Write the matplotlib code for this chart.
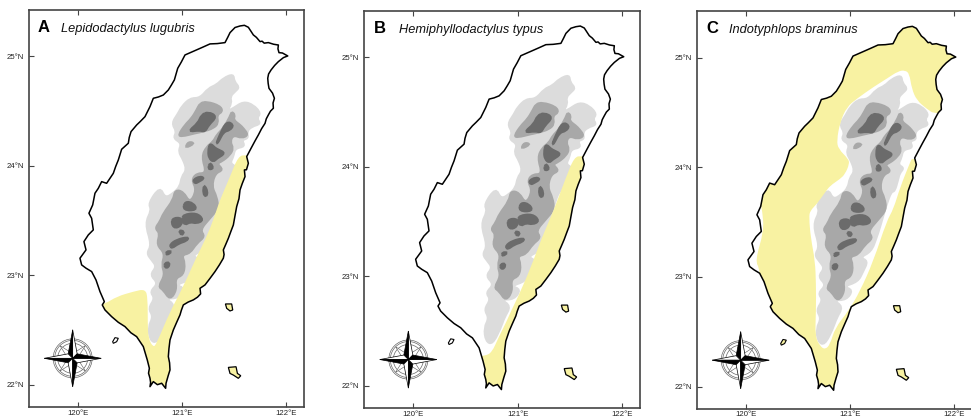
import matplotlib
matplotlib.use('Agg')
import numpy as np
import matplotlib.pyplot as plt
from matplotlib.patches import Polygon, Ellipse, PathPatch
from matplotlib.path import Path

plt.rcParams['font.family'] = ['Liberation Sans', 'DejaVu Sans']

# coastline, lon/lat
coast = [(121.558,25.279),(121.600,25.285),(121.638,25.267),(121.660,25.235),(121.686,25.197),(121.715,25.175),(121.750,25.136),
         (121.770,25.140),(121.790,25.122),(121.830,25.127),(121.880,25.112),(121.926,25.105),(121.922,25.070),(121.932,25.035),
         (121.965,25.032),(122.016,25.005),(121.975,24.990),(121.926,24.953),(121.890,24.918),(121.856,24.877),(121.832,24.840),
         (121.824,24.801),(121.828,24.755),(121.836,24.709),(121.870,24.665),(121.888,24.618),(121.875,24.575),(121.878,24.527),
         (121.850,24.500),(121.830,24.466),(121.810,24.430),(121.798,24.389),(121.765,24.340),(121.734,24.283),(121.700,24.225),
         (121.664,24.161),(121.622,24.085),(121.638,24.024),(121.620,23.965),(121.600,23.963),(121.606,23.902),(121.580,23.840),
         (121.558,23.780),(121.548,23.700),(121.526,23.628),(121.510,23.545),(121.494,23.460),(121.470,23.400),(121.446,23.338),
         (121.420,23.280),(121.398,23.232),(121.405,23.190),(121.398,23.156),(121.360,23.095),(121.318,23.034),(121.270,22.972),
         (121.222,22.912),(121.174,22.881),(121.180,22.830),(121.150,22.800),(121.110,22.775),(121.060,22.755),(121.014,22.729),
         (120.995,22.680),(120.982,22.638),(120.950,22.570),(120.918,22.500),(120.886,22.409),(120.876,22.330),(120.870,22.257),
         (120.882,22.200),(120.886,22.135),(120.868,22.080),(120.848,22.013),(120.844,21.967),(120.806,22.013),(120.765,22.000),
         (120.726,22.028),(120.694,21.982),(120.700,22.020),(120.694,22.059),(120.680,22.105),(120.688,22.150),(120.668,22.226),
         (120.630,22.348),(120.566,22.439),(120.510,22.475),(120.454,22.531),(120.390,22.570),(120.326,22.622),(120.262,22.683),
         (120.236,22.729),(120.256,22.759),(120.214,22.851),(120.176,22.957),(120.134,23.034),(120.080,23.065),(120.038,23.095),
         (120.022,23.156),(120.080,23.232),(120.060,23.308),(120.102,23.369),(120.150,23.415),(120.134,23.521),(120.108,23.567),
         (120.144,23.643),(120.166,23.750),(120.198,23.795),(120.230,23.856),(120.278,23.841),(120.342,23.932),(120.365,23.995),
         (120.390,24.054),(120.422,24.152),(120.486,24.207),(120.495,24.260),(120.512,24.313),(120.566,24.374),(120.600,24.405),
         (120.646,24.450),(120.694,24.542),(120.726,24.618),(120.775,24.630),(120.822,24.648),(120.870,24.694),(120.900,24.740),
         (120.928,24.786),(120.960,24.892),(120.995,24.950),(121.030,25.014),(121.126,25.054),(121.200,25.085),(121.270,25.115),
         (121.340,25.118),(121.414,25.127),(121.440,25.175),(121.462,25.218),(121.510,25.265)]
lanyu = [(121.418,22.738),(121.478,22.738),(121.488,22.683),(121.462,22.674),(121.430,22.698)]
southeast_islet = [(121.446,22.158),(121.520,22.164),(121.533,22.103),(121.565,22.082),(121.542,22.058),
                   (121.494,22.088),(121.462,22.103)]
liuqiu = [(120.336,22.393),(120.358,22.430),(120.390,22.424),(120.374,22.393),(120.342,22.378)]

# elevation bands
light = [(121.494,24.841),(121.501,24.771),(121.552,24.719),(121.510,24.680),(121.462,24.634),(121.478,24.573),
         (121.430,24.497),(121.494,24.527),(121.590,24.588),(121.686,24.558),(121.757,24.482),(121.718,24.436),
         (121.757,24.384),(121.670,24.360),(121.622,24.314),(121.638,24.253),(121.574,24.238),(121.606,24.177),
         (121.510,24.161),(121.494,24.085),(121.462,24.024),(121.520,23.993),(121.478,23.948),(121.462,23.887),
         (121.430,23.780),(121.398,23.780),(121.350,23.658),(121.286,23.445),(121.254,23.354),(121.206,23.232),
         (121.094,23.177),(121.174,23.146),(121.126,23.049),(121.078,22.957),(120.934,22.912),(121.030,22.881),
         (120.966,22.790),(120.838,22.790),(120.934,22.729),(120.870,22.622),(120.838,22.531),(120.758,22.379),
         (120.694,22.409),(120.678,22.531),(120.726,22.622),(120.678,22.698),(120.742,22.790),(120.694,22.851),
         (120.774,22.927),(120.694,23.003),(120.758,23.079),(120.710,23.140),(120.662,23.201),(120.710,23.277),
         (120.646,23.475),(120.710,23.597),(120.678,23.658),(120.790,23.811),(120.838,23.704),(120.918,23.750),
         (120.982,23.811),(120.998,23.902),(121.046,23.963),(121.014,24.055),(120.966,24.131),(120.998,24.207),
         (120.918,24.253),(120.950,24.314),(120.902,24.390),(120.966,24.482),(120.998,24.542),(121.078,24.619),
         (121.174,24.619),(121.254,24.710),(121.334,24.741),(121.398,24.802)]
mid_north = [(121.238,24.588),(121.366,24.549),(121.392,24.497),(121.334,24.466),(121.350,24.390),(121.302,24.344),
             (121.206,24.314),(121.126,24.299),(120.998,24.268),(120.966,24.283),(121.030,24.375),(121.094,24.436),
             (121.142,24.512),(121.174,24.573)]
mid_spine = [(121.478,24.497),(121.510,24.466),(121.494,24.420),(121.558,24.375),(121.590,24.344),(121.638,24.283),
             (121.574,24.253),(121.494,24.283),(121.462,24.222),(121.494,24.161),(121.462,24.100),(121.382,24.039),
             (121.334,24.024),(121.398,23.963),(121.318,23.932),(121.286,23.811),(121.334,23.719),(121.350,23.612),
             (121.270,23.522),(121.174,23.415),(121.222,23.354),(121.142,23.293),(121.078,23.201),(120.998,23.186),
             (121.030,23.110),(121.014,23.003),(120.934,22.973),(120.950,22.866),(120.886,22.774),(120.822,22.866),
             (120.774,22.896),(120.838,23.003),(120.806,23.095),(120.838,23.201),(120.758,23.278),(120.790,23.384),
             (120.742,23.430),(120.790,23.491),(120.822,23.567),(120.918,23.689),(120.934,23.780),(121.014,23.765),
             (121.078,23.658),(121.142,23.780),(121.094,23.872),(121.142,23.932),(121.238,23.932),(121.190,24.085),
             (121.238,24.177),(121.302,24.222),(121.334,24.283),(121.398,24.344),(121.462,24.451)]
mid_small = [(121.062,24.222),(121.126,24.207),(121.030,24.161)]
dark = [
    [(121.254,24.491),(121.334,24.451),(121.254,24.375),(121.222,24.314),(121.168,24.329),(121.062,24.314),(121.158,24.390),(121.190,24.466)],
    [(121.430,24.405),(121.494,24.375),(121.462,24.329),(121.398,24.314),(121.350,24.222),(121.334,24.207),(121.366,24.283)],
    [(121.270,24.207),(121.318,24.161),(121.350,24.146),(121.414,24.116),(121.334,24.070),(121.302,24.039),(121.264,24.070),(121.254,24.131)],
    [(121.270,24.030),(121.302,23.978),(121.254,23.969)],
    [(121.110,23.872),(121.174,23.902),(121.213,23.887),(121.158,23.856),(121.126,23.841)],
    [(121.213,23.826),(121.245,23.765),(121.232,23.719),(121.206,23.750)],
    [(121.030,23.673),(121.110,23.658),(121.142,23.597),(121.014,23.597)],
    [(121.014,23.552),(121.142,23.567),(121.206,23.506),(121.142,23.476),(121.078,23.491),(121.030,23.461),(121.008,23.506)],
    [(120.918,23.522),(120.998,23.522),(120.998,23.461),(120.934,23.430),(120.902,23.476)],
    [(120.973,23.409),(121.021,23.400),(120.998,23.366)],
    [(120.886,23.278),(120.950,23.323),(121.062,23.348),(121.046,23.317),(120.966,23.293),(120.902,23.247)],
    [(120.854,23.217),(120.902,23.217),(120.854,23.186)],
    [(120.838,23.110),(120.880,23.116),(120.870,23.073),(120.838,23.073)],
]

# species ranges (parts outside the coast get clipped)
range_a = [(121.616,24.100),(121.542,24.090),(121.462,23.902),(121.366,23.689),(121.334,23.598),(121.254,23.384),
           (121.142,23.171),(120.998,22.866),(120.886,22.668),(120.758,22.378),(120.726,22.340),(120.678,22.424),
           (120.672,22.561),(120.672,22.790),(120.650,22.875),(120.534,22.851),(120.374,22.805),(120.262,22.738),
           (120.100,22.700),(120.300,21.800),(121.000,21.800),(122.100,23.000),(122.100,24.100)]
range_b = [(121.616,24.100),(121.542,24.090),(121.462,23.902),(121.344,23.600),(121.232,23.357),(121.120,23.067),
           (120.992,22.790),(120.944,22.700),(120.896,22.594),(120.816,22.442),(120.752,22.305),(120.685,22.274),
           (120.500,22.250),(120.300,21.800),(121.000,21.800),(122.100,23.000),(122.100,24.100)]
range_c = [(121.818,24.482),(121.738,24.533),(121.642,24.610),(121.594,24.716),(121.571,24.854),(121.530,24.884),
           (121.466,24.878),(121.354,24.808),(121.226,24.732),(121.066,24.625),(120.970,24.549),(120.906,24.411),
           (120.874,24.244),(120.890,24.167),(120.986,24.076),(120.995,24.030),(120.954,23.939),(120.906,23.893),
           (120.810,23.832),(120.762,23.771),(120.682,23.664),(120.618,23.603),(120.608,23.543),(120.624,23.360),
           (120.666,23.146),(120.675,22.933),(120.675,22.689),(120.666,22.460),(120.714,22.369),(120.762,22.338),
           (120.810,22.384),(120.858,22.536),(120.986,22.689),(121.098,22.872),(121.226,23.146),(121.354,23.512),
           (121.418,23.618),(121.482,23.817),(121.578,24.045),(121.600,24.091),(122.300,24.091),(122.300,21.500),
           (119.500,21.500),(120.150,22.700),(120.138,23.070),(120.090,23.146),(120.175,23.420),(120.160,23.600),
           (120.138,23.690),(119.500,24.200),(119.500,25.500),(122.300,25.500),(122.300,24.500)]

panel_letters = ['A', 'B', 'C']
species = ['Lepidodactylus lugubris', 'Hemiphyllodactylus typus', 'Indotyphlops braminus']
ranges = [range_a, range_b, range_c]
lon_ticks = [120, 121, 122]
lat_ticks = [22, 23, 24, 25]
boxes = [(28.7, 304, 10, 407), (364.3, 640, 10.7, 408.3), (696.7, 972, 11, 409)]
letter_x = [0.034, 0.036, 0.034]
name_x = [0.117, 0.126, 0.117]
xlabel_pad = [2.2, 1.8, 1.2]

W, H = 971, 419
YELLOW = '#f8f2a2'
PX_LON, PX_LAT = 104.2, 109.4


def smooth(points):
    # closed quadratic curve with the points as control points
    p = np.array(points)
    mids = (p + np.roll(p, -1, axis=0)) / 2
    verts = [mids[-1]]
    codes = [Path.MOVETO]
    for c, m in zip(p, mids):
        verts += [c, m]
        codes += [Path.CURVE3, Path.CURVE3]
    return Path(verts, codes)


def blob(ax, points, color, z, lw=1.2):
    ax.add_patch(PathPatch(smooth(points), fc=color, ec=color, lw=lw, zorder=z))


def compass(ax, lon, lat):
    def pts(*p):
        return [(lon + x / PX_LON, lat + y / PX_LAT) for x, y in p]
    for r in (19.5, 18, 15):
        ax.add_patch(Ellipse((lon, lat), 2 * r / PX_LON, 2 * r / PX_LAT, fill=False, ec='#666666', lw=0.5, zorder=6))
    for a in np.radians([45, 135, 225, 315]):
        tip = (18 * np.cos(a), 18 * np.sin(a))
        s1 = (4 * np.cos(a + 1.2), 4 * np.sin(a + 1.2))
        s2 = (4 * np.cos(a - 1.2), 4 * np.sin(a - 1.2))
        ax.add_patch(Polygon(pts(s1, tip, s2, (0, 0)), fc='white', ec='#555555', lw=0.4, zorder=6))
    L, w = 28.5, 4.5
    for a in np.radians([90, 180, 270, 0]):
        c, s = np.cos(a), np.sin(a)
        tip = (L * c, L * s)
        left = (-w * s + w * c, w * c + w * s)
        right = (w * s + w * c, -w * c + w * s)
        ax.add_patch(Polygon(pts((0, 0), tip, right), fc='white', ec='black', lw=0.5, zorder=7))
        ax.add_patch(Polygon(pts((0, 0), tip, left), fc='black', ec='black', lw=0.5, zorder=7))


fig = plt.figure(figsize=(W / 100, H / 100), dpi=100)
for i, (x0, x1, y0, y1) in enumerate(boxes):
    ax = fig.add_axes([x0 / W, 1 - y1 / H, (x1 - x0) / W, (y1 - y0) / H])
    ax.set_xlim(119.530, 122.172)
    ax.set_ylim(21.796, 25.425)

    coast_patch = Polygon(coast, closed=True, fc='white', ec='none', zorder=1)
    ax.add_patch(coast_patch)

    blob(ax, light, '#dcdcdc', 2, lw=1.6)
    for p in (mid_north, mid_spine, mid_small):
        blob(ax, p, '#a8a8a8', 3, lw=1.6)
    for p in dark:
        blob(ax, p, '#6b6b6b', 4, lw=2.0)

    # range sits over the relief, its west edge is the clean straight one
    rng = PathPatch(smooth(ranges[i]), fc=YELLOW, ec='none', zorder=5)
    ax.add_patch(rng)
    rng.set_clip_path(coast_patch)

    ax.add_patch(Polygon(coast, closed=True, fill=False, ec='black', lw=1.1, joinstyle='round', zorder=6))
    ax.add_patch(Polygon(lanyu, fc=YELLOW, ec='black', lw=0.9, zorder=6))
    ax.add_patch(Polygon(southeast_islet, fc=YELLOW, ec='black', lw=0.9, zorder=6))
    ax.add_patch(Polygon(liuqiu, fc=YELLOW if i == 2 else 'white', ec='black', lw=0.8, zorder=6))

    compass(ax, 119.952, 22.241)

    ax.set_xticks(lon_ticks)
    ax.set_xticklabels([f'{v}°E' for v in lon_ticks])
    ax.set_yticks(lat_ticks)
    ax.set_yticklabels([f'{v}°N' for v in lat_ticks])
    ax.tick_params(axis='both', direction='in', length=3.3, width=0.8, color='#444444',
                   labelsize=5.6, labelcolor='#222222', pad=3.5, top=True)
    ax.tick_params(axis='x', pad=xlabel_pad[i])
    for sp in ax.spines.values():
        sp.set_color('#444444')
        sp.set_linewidth(1.2)

    ax.text(letter_x[i], 0.945, panel_letters[i], transform=ax.transAxes, fontsize=12, fontweight='bold',
            color='black', va='baseline', ha='left')
    ax.text(name_x[i], 0.945, species[i], transform=ax.transAxes, fontsize=9.2, fontstyle='italic',
            color='#111111', va='baseline', ha='left')

fig.savefig('out.png', dpi=100)
